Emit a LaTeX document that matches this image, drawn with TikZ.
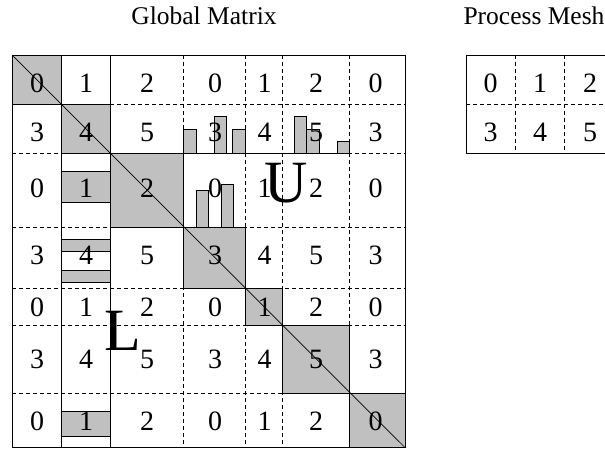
\documentclass[tikz,border=0pt]{standalone}
\usepackage{fontspec}
\setmainfont{Liberation Serif}
\definecolor{blk}{RGB}{192,192,192}
\begin{document}
\begin{tikzpicture}[x=1pt,y=-1pt,
  gridline/.style={line width=0.8pt, dash pattern=on 4pt off 3pt},
  solidline/.style={line width=0.8pt},
  blkbox/.style={fill=blk, draw=black, line width=0.8pt},
  num/.style={font=\fontsize{28}{28}\selectfont, inner sep=0pt},
  bigletter/.style={font=\fontsize{60}{60}\selectfont, inner sep=0pt, anchor=base},
  ttl/.style={font=\fontsize{25.5}{25.5}\selectfont, inner sep=0pt, anchor=base}]
\useasboundingbox (0,0) rectangle (605,449);
\clip (0,0) rectangle (605,449);

% titles
\node[ttl] (gm) at (204,25) {Global Matrix};
\node[ttl] (pm) at (534,25) {Process Mesh};

% dashed grid of the global matrix
\foreach \y in {104,153,227,288.5,325.5,393} \draw[gridline] (12,\y) -- (405,\y);
\foreach \x in {183.5,245.5,282.5,349.5} \draw[gridline] (\x,55) -- (\x,447.5);

% diagonal blocks
\foreach \a/\b/\c/\d in {12/55/61/104, 61/104/110/153, 110/153/183.5/227,
  183.5/227/245.5/288.5, 245.5/288.5/282.5/325.5, 282.5/325.5/349.5/393, 349.5/393/405/447.5}
  \draw[blkbox] (\a,\b) rectangle (\c,\d);

% row-panel bars (U part)
\foreach \a/\b/\c/\d in {183.5/129.3/196.5/153, 214.5/116.7/226.5/153, 232.5/129.3/245.5/153,
  294.5/116.7/306.5/153, 306.5/129.3/319/153, 337.5/141.5/349.5/153,
  196/190/208.5/227, 221/184.3/233.5/227}
  \draw[blkbox] (\a,\b) rectangle (\c,\d);

% column-panel bars (L part)
\foreach \b/\d in {171.7/202.7, 239.3/251.7, 270/282, 411.7/436}
  \draw[blkbox] (61,\b) rectangle (110,\d);

% solid lines
\draw[solidline] (61,55) -- (61,447.5);
\draw[solidline] (110,55) -- (110,447.5);
\draw[solidline] (12,104) -- (110,104);
\draw[solidline] (183.5,153) -- (349.5,153);
\draw[solidline] (12,55) rectangle (405,447.5);

% diagonal
\draw[line width=0.7pt] (12,55) -- (405,447.5);

% numbers
\foreach \y [count=\r from 0] in {83,132.5,188,255,307,359,421}
  \foreach \x [count=\c from 0] in {37,86,147,215,264.5,316,375.5} {
    \pgfmathtruncatemacro{\v}{mod(\r,2)*3+mod(\c,3)}
    \node[num] (n-\r-\c) at (\x,\y) {\v};
  }

% big letters
\node[bigletter] (U) at (286.5,203) {U};
\node[bigletter] (L) at (122.5,350) {L};

% process mesh
\draw[gridline] (515,55) -- (515,153);
\draw[gridline] (564.5,55) -- (564.5,153);
\draw[gridline] (466,104) -- (614,104);
\draw[solidline] (466,55) rectangle (614,153);
\foreach \y [count=\r from 0] in {83,132.5}
  \foreach \x [count=\c from 0] in {490.5,540,590} {
    \pgfmathtruncatemacro{\v}{\r*3+\c}
    \node[num] (p-\r-\c) at (\x,\y) {\v};
  }
\end{tikzpicture}
\end{document}
